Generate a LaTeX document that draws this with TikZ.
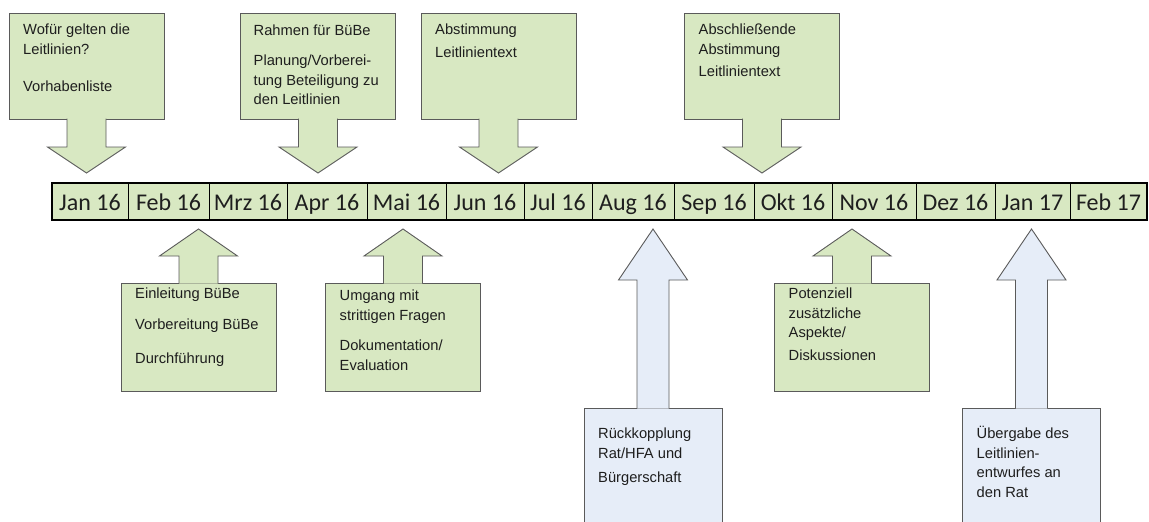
\documentclass[tikz,border=0pt]{standalone}
\usepackage{fontspec}
\setmainfont{Liberation Sans}
\newfontfamily\monthfont{Carlito}
\usetikzlibrary{positioning,calc}

\definecolor{lgreen}{RGB}{216,232,194}
\definecolor{lblue}{RGB}{230,237,248}
\definecolor{edgegray}{RGB}{90,90,90}
\definecolor{txt}{RGB}{30,30,30}

\begin{document}
\begin{tikzpicture}[x=1pt, y=-1pt, node distance=0pt,
    calloutline/.style={draw=edgegray, line width=0.9pt},
    gbox/.style={calloutline, fill=lgreen, minimum width=155pt, inner sep=0pt, outer sep=0pt},
    bbox/.style={calloutline, fill=lblue, minimum width=138pt, minimum height=130pt, inner sep=0pt, outer sep=0pt},
    btext/.style={inner sep=0pt, align=left, text=txt, font=\fontsize{14.7}{19.5}\selectfont},
    month/.style={draw=black, line width=0.9pt, fill=lgreen, minimum height=37pt, inner sep=0pt, outer sep=0pt, text height=20pt, text depth=3pt, text=txt, font=\monthfont\fontsize{24}{28}\selectfont}]

    \useasboundingbox (0,0) rectangle (1149,522);
    \clip (0,0) rectangle (1149,522);

    % Months
    \node[month, minimum width=76pt] (jan16) at (90,201.5) {Jan 16};
    \node[month, minimum width=81pt, right=of jan16] (feb16) {Feb 16};
    \node[month, minimum width=78pt, right=of feb16] (mrz16) {Mrz 16};
    \node[month, minimum width=80pt, right=of mrz16] (apr16) {Apr 16};
    \node[month, minimum width=79pt, right=of apr16] (mai16) {Mai 16};
    \node[month, minimum width=78pt, right=of mai16] (jun16) {Jun 16};
    \node[month, minimum width=68pt, right=of jun16] (jul16) {Jul 16};
    \node[month, minimum width=82pt, right=of jul16] (aug16) {Aug 16};
    \node[month, minimum width=80pt, right=of aug16] (sep16) {Sep 16};
    \node[month, minimum width=78pt, right=of sep16] (okt16) {Okt 16};
    \node[month, minimum width=84pt, right=of okt16] (nov16) {Nov 16};
    \node[month, minimum width=79pt, right=of nov16] (dez16) {Dez 16};
    \node[month, minimum width=75pt, right=of dez16] (jan17) {Jan 17};
    \node[month, minimum width=77pt, right=of jan17] (feb17) {Feb 17};
    \draw[line width=1.6pt] (jan16.north west) rectangle (feb17.south east);

    % Callouts above the months
    \node[gbox, minimum height=106pt] (wofuer) at (86.5,66) {};
    \draw[calloutline, fill=lgreen] ([xshift=-19.5pt, yshift=0.5pt]wofuer.south) -- ++(0,28.5) -- ++(-19.5,0) -- ($(wofuer.south |- jan16.north)+(0,-10)$) -- ++(39,-26) -- ++(-19.5,0) -- ++(0,-28.5);
    \node[btext, below right=11pt and 14pt of wofuer.north west] (wofuer-t) {Wofür gelten die\\Leitlinien?\\[17.5pt]Vorhabenliste};

    \node[gbox, minimum height=106pt] (rahmen) at (318,66) {};
    \draw[calloutline, fill=lgreen] ([xshift=-19.5pt, yshift=0.5pt]rahmen.south) -- ++(0,28.5) -- ++(-19.5,0) -- ($(rahmen.south |- apr16.north)+(0,-10)$) -- ++(39,-26) -- ++(-19.5,0) -- ++(0,-28.5);
    \node[btext, below right=12pt and 13pt of rahmen.north west] (rahmen-t) {Rahmen für BüBe\\[10.5pt]Planung/Vorberei-\\tung Beteiligung zu\\den Leitlinien};

    \node[gbox, minimum height=106pt] (abstimmung) at (498.5,66) {};
    \draw[calloutline, fill=lgreen] ([xshift=-19.5pt, yshift=0.5pt]abstimmung.south) -- ++(0,28.5) -- ++(-19.5,0) -- ($(abstimmung.south |- jun16.north)+(0,-10)$) -- ++(39,-26) -- ++(-19.5,0) -- ++(0,-28.5);
    \node[btext, below right=11pt and 14pt of abstimmung.north west] (abstimmung-t) {Abstimmung\\[3pt]Leitlinientext};

    \node[gbox, minimum height=106pt] (abschluss) at (762,66) {};
    \draw[calloutline, fill=lgreen] ([xshift=-19.5pt, yshift=0.5pt]abschluss.south) -- ++(0,28.5) -- ++(-19.5,0) -- ($(abschluss.south |- okt16.north)+(0,-10)$) -- ++(39,-26) -- ++(-19.5,0) -- ++(0,-28.5);
    \node[btext, below right=11pt and 14pt of abschluss.north west] (abschluss-t) {Abschließende\\Abstimmung\\[3pt]Leitlinientext};

    % Callouts below the months
    \node[gbox, minimum height=108pt] (einleitung) at (198.5,337) {};
    \draw[calloutline, fill=lgreen] ([xshift=-19.5pt, yshift=-0.5pt]einleitung.north) -- ++(0,-27.5) -- ++(-19.5,0) -- ($(einleitung.north |- feb16.south)+(0,9)$) -- ++(39,27) -- ++(-19.5,0) -- ++(0,27.5);
    \node[btext, below right=5pt and 14pt of einleitung.north west] (einleitung-t) {Einleitung BüBe\\[11pt]Vorbereitung BüBe\\[15pt]Durchführung};

    \node[gbox, minimum height=108pt] (umgang) at (403,337) {};
    \draw[calloutline, fill=lgreen] ([xshift=-19.5pt, yshift=-0.5pt]umgang.north) -- ++(0,-27.5) -- ++(-19.5,0) -- ($(umgang.north |- mai16.south)+(0,9)$) -- ++(39,27) -- ++(-19.5,0) -- ++(0,27.5);
    \node[btext, below right=7pt and 14pt of umgang.north west] (umgang-t) {Umgang mit\\strittigen Fragen\\[11pt]Dokumentation/\\Evaluation};

    \node[gbox, minimum height=108pt] (potenziell) at (852,337) {};
    \draw[calloutline, fill=lgreen] ([xshift=-19.5pt, yshift=-0.5pt]potenziell.north) -- ++(0,-27.5) -- ++(-19.5,0) -- ($(potenziell.north |- nov16.south)+(0,9)$) -- ++(39,27) -- ++(-19.5,0) -- ++(0,27.5);
    \node[btext, below right=5pt and 14pt of potenziell.north west] (potenziell-t) {Potenziell\\zusätzliche\\Aspekte/\\[3.5pt]Diskussionen};

    % Feedback and hand-over (blue)
    \node[bbox] (rueckkopplung) at (653,473) {};
    \draw[calloutline, fill=lblue] ([xshift=-16pt, yshift=-0.5pt]rueckkopplung.north) -- ++(0,-128.5) -- ++(-18.5,0) -- ($(rueckkopplung.north |- aug16.south)+(0,9)$) -- ++(34.5,51) -- ++(-18.5,0) -- ++(0,128.5);
    \node[btext, below right=20pt and 14pt of rueckkopplung.north west] (rueckkopplung-t) {Rückkopplung\\Rat/HFA und\\[4.5pt]Bürgerschaft};

    \node[bbox] (uebergabe) at (1031.5,473) {};
    \draw[calloutline, fill=lblue] ([xshift=-16pt, yshift=-0.5pt]uebergabe.north) -- ++(0,-128.5) -- ++(-18.5,0) -- ($(uebergabe.north |- jan17.south)+(0,9)$) -- ++(34.5,51) -- ++(-18.5,0) -- ++(0,128.5);
    \node[btext, below right=18pt and 14pt of uebergabe.north west] (uebergabe-t) {Übergabe des\\Leitlinien-\\entwurfes an\\den Rat};
\end{tikzpicture}
\end{document}
